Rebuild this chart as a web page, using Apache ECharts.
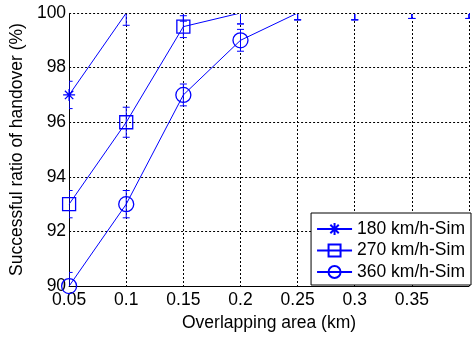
<!DOCTYPE html>
<html>
<head>
<meta charset="utf-8">
<script src="https://cdn.jsdelivr.net/npm/echarts@6/dist/echarts.min.js"></script>
<style>
  html, body { margin: 0; padding: 0; background: #fff; }
  #chart { width: 472px; height: 337px; }
</style>
</head>
<body>
<div id="chart"></div>
<script>
// Overlapping area of adjacent cells (km)
const overlap = [0.05, 0.1, 0.15, 0.2, 0.25, 0.3, 0.35, 0.4];
const xTickLabels = ['0.05', '0.1', '0.15', '0.2', '0.25', '0.3', '0.35', ''];
const yTickLabels = ['90', '92', '94', '96', '98', '100'];
const seriesNames = ['180 km/h-Sim', '270 km/h-Sim', '360 km/h-Sim'];

// Successful handover ratio (%) per train speed
const ratio180 = [97, 100, 100, 100, 100, 100, 100, 100];
const ratio270 = [93, 96, 99.5, 100, 100, 100, 100, 100];
const ratio360 = [90, 93, 97, 99, 100, 100, 100, 100];

// Half-width of the error bars (%)
const err180 = [0.5, 0.45, 0.3, 0.4, 0.25, 0.25, 0.2, 0.2];
const err270 = [0.5, 0.55, 0.4, 0.4, 0.25, 0.25, 0.2, 0.2];
const err360 = [0.5, 0.5, 0.4, 0.4, 0.25, 0.25, 0.2, 0.2];

const Y_MAX = 100;
const BLUE = '#0000ff';
const FONT = '"Liberation Sans", Arial, sans-serif';
const ASTERISK = 'path://M5,0L5,10M0,5L10,5M1.5,1.5L8.5,8.5M1.5,8.5L8.5,1.5';

// Points sitting on the upper limit of the axis are drawn without a marker
function points(ys) {
  return overlap.map((x, i) => ys[i] >= Y_MAX
    ? { value: [x, ys[i]], symbol: 'none' }
    : { value: [x, ys[i]] });
}
function bars(ys, es) { return overlap.map((x, i) => [x, ys[i] - es[i], ys[i] + es[i]]); }

function errorBar(params, api) {
  const x = api.value(0);
  const lo = api.coord([x, api.value(1)]);
  const hi = api.coord([x, api.value(2)]);
  const cap = 3.5;
  const style = { stroke: BLUE, lineWidth: 1, fill: null };
  return {
    type: 'group',
    children: [
      { type: 'line', shape: { x1: hi[0], y1: hi[1], x2: lo[0], y2: lo[1] }, style },
      { type: 'line', shape: { x1: hi[0] - cap, y1: hi[1], x2: hi[0] + cap, y2: hi[1] }, style },
      { type: 'line', shape: { x1: lo[0] - cap, y1: lo[1], x2: lo[0] + cap, y2: lo[1] }, style }
    ]
  };
}

function lineSeries(name, ys, symbol, size) {
  return {
    name, type: 'line', data: points(ys), symbol, symbolSize: size,
    color: BLUE,
    lineStyle: { color: BLUE, width: 1 },
    itemStyle: { color: 'rgba(0,0,0,0)', borderColor: BLUE, borderWidth: 1.3 },
    emphasis: { disabled: true },
    animation: false, z: 3
  };
}

function barSeries(ys, es) {
  return {
    type: 'custom', renderItem: errorBar, data: bars(ys, es),
    clip: true, animation: false, silent: true, z: 2
  };
}

// Upper border of the axes box, painted over the curves
function topBorder(lineStyle, z) {
  return {
    type: 'line', data: [], z, silent: true, animation: false,
    markLine: {
      silent: true, symbol: 'none', animation: false, label: { show: false },
      data: [{ yAxis: Y_MAX, lineStyle }]
    }
  };
}

const chart = echarts.init(document.getElementById('chart'), null, { renderer: 'canvas' });
chart.setOption({
  backgroundColor: '#fff',
  animation: false,
  grid: { left: 65, top: 13, right: 1, bottom: 47, containLabel: false },
  xAxis: {
    type: 'value', min: 0.05, max: 0.4, interval: 0.05,
    name: 'Overlapping area (km)', nameLocation: 'middle', nameGap: 24,
    nameTextStyle: { fontFamily: FONT, fontSize: 17.5, color: '#000' },
    axisLine: { lineStyle: { color: '#000', width: 1 } },
    axisTick: { show: false },
    axisLabel: {
      fontFamily: FONT, fontSize: 17.5, color: '#000', margin: 5,
      formatter: (v) => xTickLabels[Math.round((v - 0.05) / 0.05)] || ''
    },
    splitLine: { show: true, lineStyle: { color: '#000', type: [2, 2], width: 1 } }
  },
  yAxis: {
    type: 'value', min: 90, max: Y_MAX, interval: 2,
    name: 'Successful ratio of handover (%)', nameLocation: 'middle', nameGap: 40,
    nameRotate: 90,
    nameTextStyle: { fontFamily: FONT, fontSize: 17.5, color: '#000' },
    axisLine: { show: true, lineStyle: { color: '#000', width: 1 } },
    axisTick: { show: false },
    axisLabel: {
      fontFamily: FONT, fontSize: 17.5, color: '#000', margin: 3,
      formatter: (v) => yTickLabels[Math.round((v - 90) / 2)] || ''
    },
    splitLine: { show: true, lineStyle: { color: '#000', type: [2, 2], width: 1 } }
  },
  legend: {
    data: seriesNames, orient: 'vertical', right: 1, top: 213,
    itemWidth: 35, itemHeight: 15, itemGap: 3.5,
    padding: [7, 6, 4, 5],
    borderColor: '#000', borderWidth: 1, backgroundColor: '#fff',
    textStyle: { fontFamily: FONT, fontSize: 17.5, lineHeight: 18, color: '#000' },
    selectedMode: false
  },
  series: [
    barSeries(ratio180, err180),
    barSeries(ratio270, err270),
    barSeries(ratio360, err360),
    lineSeries(seriesNames[0], ratio180, ASTERISK, 12),
    lineSeries(seriesNames[1], ratio270, 'rect', 13),
    lineSeries(seriesNames[2], ratio360, 'circle', 15),
    topBorder({ color: '#fff', width: 2, type: 'solid' }, 4),
    topBorder({ color: '#000', width: 1, type: [2, 2] }, 5)
  ]
});
</script>
</body>
</html>
